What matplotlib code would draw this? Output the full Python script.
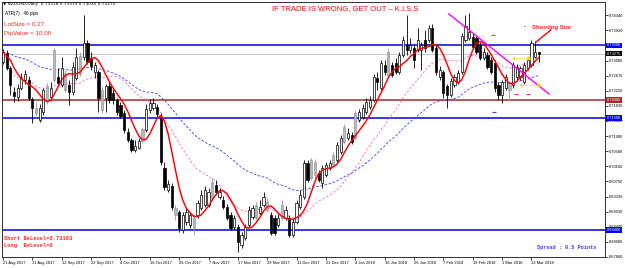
import numpy as np
import pandas as pd
import matplotlib
matplotlib.use("Agg")
import matplotlib.pyplot as plt

# ---------------- data ----------------
opens = [0.7304, 0.7329, 0.7288, 0.7222, 0.7208, 0.7233, 0.7255, 0.7255, 0.7202, 0.7177,
         0.7144, 0.7166, 0.7199, 0.7208, 0.7255, 0.7263, 0.7241, 0.7227, 0.7241, 0.7222,
         0.7260, 0.7271, 0.7318, 0.7357, 0.7315, 0.7277, 0.7277, 0.7172, 0.7205, 0.7238,
         0.7219, 0.7199, 0.7186, 0.7164, 0.7111, 0.7089, 0.7061, 0.7067, 0.7086, 0.7117,
         0.7172, 0.7177, 0.7180, 0.7150, 0.7012, 0.6951, 0.6962, 0.6882, 0.6890, 0.6841,
         0.6863, 0.6854, 0.6874, 0.6882, 0.6901, 0.6910, 0.6910, 0.6929, 0.6965, 0.6932,
         0.6923, 0.6904, 0.6882, 0.6849, 0.6849, 0.6799, 0.6819, 0.6854, 0.6877, 0.6874,
         0.6888, 0.6910, 0.6896, 0.6882, 0.6874, 0.6854, 0.6874, 0.6874, 0.6874, 0.6827,
         0.6863, 0.6904, 0.6932, 0.7025, 0.6984, 0.6992, 0.6998, 0.6970, 0.6992, 0.7012,
         0.7020, 0.7034, 0.7056, 0.7083, 0.7094, 0.7103, 0.7094, 0.7144, 0.7152, 0.7166,
         0.7180, 0.7199, 0.7260, 0.7233, 0.7296, 0.7268, 0.7296, 0.7302, 0.7277, 0.7324,
         0.7351, 0.7337, 0.7343, 0.7337, 0.7337, 0.7365, 0.7365, 0.7398, 0.7343, 0.7263,
         0.7277, 0.7238, 0.7213, 0.7241, 0.7249, 0.7277, 0.7365, 0.7371, 0.7373, 0.7371,
         0.7351, 0.7315, 0.7324, 0.7310, 0.7302, 0.7241, 0.7213, 0.7233, 0.7246, 0.7241,
         0.7263, 0.7263, 0.7249, 0.7288, 0.7296, 0.7318, 0.73318]
highs = [0.7340, 0.7337, 0.7293, 0.7235, 0.7244, 0.7274, 0.7282, 0.7266, 0.7208, 0.7194,
         0.7188, 0.7233, 0.7246, 0.7249, 0.7343, 0.7288, 0.7318, 0.7282, 0.7255, 0.7304,
         0.7343, 0.7332, 0.7434, 0.7365, 0.7332, 0.7304, 0.7282, 0.7238, 0.7244, 0.7249,
         0.7233, 0.7205, 0.7194, 0.7172, 0.7122, 0.7094, 0.7089, 0.7094, 0.7125, 0.7188,
         0.7202, 0.7205, 0.7188, 0.7164, 0.7028, 0.6979, 0.6970, 0.6910, 0.6896, 0.6890,
         0.6901, 0.6890, 0.6885, 0.6923, 0.6951, 0.6962, 0.6957, 0.6984, 0.6979, 0.6957,
         0.6934, 0.6912, 0.6890, 0.6882, 0.6857, 0.6835, 0.6857, 0.6907, 0.6910, 0.6918,
         0.6923, 0.6946, 0.6929, 0.6890, 0.6882, 0.6885, 0.6923, 0.6907, 0.6882, 0.6874,
         0.6923, 0.6951, 0.7034, 0.7034, 0.7039, 0.7037, 0.7006, 0.7020, 0.7028, 0.7034,
         0.7056, 0.7083, 0.7103, 0.7133, 0.7122, 0.7111, 0.7172, 0.7175, 0.7188, 0.7205,
         0.7210, 0.7271, 0.7277, 0.7310, 0.7310, 0.7343, 0.7304, 0.7315, 0.7332, 0.7376,
         0.7434, 0.7371, 0.7351, 0.7398, 0.7359, 0.7393, 0.7406, 0.7409, 0.7351, 0.7293,
         0.7282, 0.7244, 0.7260, 0.7271, 0.7282, 0.7384, 0.7434, 0.7440, 0.7384, 0.7379,
         0.7359, 0.7343, 0.7332, 0.7318, 0.7310, 0.7249, 0.7255, 0.7271, 0.7249, 0.7304,
         0.7299, 0.7293, 0.7304, 0.7318, 0.7365, 0.7362, 0.73319]
lows = [0.7299, 0.7282, 0.7213, 0.7194, 0.7197, 0.7227, 0.7244, 0.7199, 0.7136, 0.7150,
        0.7139, 0.7158, 0.7188, 0.7202, 0.7249, 0.7241, 0.7235, 0.7222, 0.7186, 0.7213,
        0.7255, 0.7266, 0.7310, 0.7299, 0.7282, 0.7260, 0.7166, 0.7164, 0.7166, 0.7191,
        0.7188, 0.7158, 0.7150, 0.7108, 0.7083, 0.7056, 0.7056, 0.7064, 0.7081, 0.7111,
        0.7164, 0.7172, 0.7153, 0.7020, 0.6951, 0.6946, 0.6896, 0.6868, 0.6835, 0.6832,
        0.6854, 0.6846, 0.6827, 0.6874, 0.6896, 0.6904, 0.6904, 0.6923, 0.6937, 0.6926,
        0.6899, 0.6868, 0.6841, 0.6843, 0.6780, 0.6791, 0.6813, 0.6849, 0.6871, 0.6868,
        0.6882, 0.6904, 0.6890, 0.6827, 0.6827, 0.6849, 0.6868, 0.6868, 0.6821, 0.6821,
        0.6857, 0.6899, 0.6926, 0.6973, 0.6979, 0.6984, 0.6973, 0.6957, 0.6987, 0.7006,
        0.7014, 0.7028, 0.7050, 0.7078, 0.7089, 0.7078, 0.7089, 0.7139, 0.7147, 0.7161,
        0.7175, 0.7194, 0.7227, 0.7227, 0.7268, 0.7263, 0.7263, 0.7271, 0.7271, 0.7318,
        0.7324, 0.7329, 0.7288, 0.7332, 0.7282, 0.7332, 0.7359, 0.7332, 0.7268, 0.7255,
        0.7205, 0.7177, 0.7208, 0.7235, 0.7244, 0.7271, 0.7359, 0.7365, 0.7340, 0.7326,
        0.7310, 0.7310, 0.7285, 0.7271, 0.7222, 0.7199, 0.7191, 0.7227, 0.7199, 0.7233,
        0.7255, 0.7255, 0.7244, 0.7282, 0.7291, 0.7315, 0.73035]
closes = [0.7332, 0.7288, 0.7241, 0.7210, 0.7233, 0.7260, 0.7271, 0.7205, 0.7177, 0.7164,
          0.7177, 0.7227, 0.7238, 0.7233, 0.7337, 0.7246, 0.7288, 0.7274, 0.7222, 0.7291,
          0.7318, 0.7321, 0.7357, 0.7304, 0.7293, 0.7296, 0.7205, 0.7227, 0.7238, 0.7199,
          0.7199, 0.7166, 0.7155, 0.7117, 0.7089, 0.7061, 0.7072, 0.7086, 0.7119, 0.7175,
          0.7191, 0.7191, 0.7161, 0.7028, 0.6959, 0.6968, 0.6904, 0.6901, 0.6846, 0.6882,
          0.6890, 0.6882, 0.6846, 0.6915, 0.6937, 0.6951, 0.6946, 0.6973, 0.6946, 0.6946,
          0.6904, 0.6874, 0.6846, 0.6874, 0.6808, 0.6827, 0.6849, 0.6896, 0.6901, 0.6910,
          0.6904, 0.6932, 0.6918, 0.6832, 0.6832, 0.6874, 0.6910, 0.6896, 0.6827, 0.6863,
          0.6915, 0.6937, 0.7025, 0.6979, 0.7034, 0.7028, 0.6979, 0.7012, 0.7020, 0.7025,
          0.7048, 0.7075, 0.7094, 0.7125, 0.7108, 0.7083, 0.7164, 0.7166, 0.7177, 0.7194,
          0.7199, 0.7263, 0.7249, 0.7302, 0.7277, 0.7332, 0.7268, 0.7277, 0.7324, 0.7365,
          0.7337, 0.7351, 0.7310, 0.7365, 0.7351, 0.7343, 0.7398, 0.7337, 0.7277, 0.7282,
          0.7219, 0.7213, 0.7252, 0.7263, 0.7274, 0.7376, 0.7404, 0.7387, 0.7346, 0.7332,
          0.7315, 0.7332, 0.7291, 0.7277, 0.7233, 0.7213, 0.7249, 0.7263, 0.7227, 0.7296,
          0.7291, 0.7288, 0.7296, 0.7310, 0.7357, 0.7332, 0.73275]
gray_bars = [9, 12, 14, 17, 21, 27, 38, 47, 52, 57, 69, 72, 76, 84, 85, 90, 93, 96, 105, 138]

date_labels = ["21 Aug 2017", "31 Aug 2017", "12 Sep 2017", "22 Sep 2017", "4 Oct 2017",
               "16 Oct 2017", "26 Oct 2017", "7 Nov 2017", "17 Nov 2017", "29 Nov 2017",
               "11 Dec 2017", "21 Dec 2017", "4 Jan 2018", "16 Jan 2018", "26 Jan 2018",
               "7 Feb 2018", "19 Feb 2018", "1 Mar 2018", "13 Mar 2018"]
price_ticks = [0.67660, 0.68080, 0.68490, 0.68910, 0.69330, 0.69750, 0.70160, 0.70580,
               0.71000, 0.71420, 0.71830, 0.72250, 0.72670, 0.73080, 0.73500, 0.73920, 0.74340]

blue_levels = [0.73500, 0.71500, 0.68400]
red_levels = [0.72000]
bid_price = 0.73275

trend_bars = [121.5, 148.8]
trend_prices = [0.7437, 0.7216]
star_arrow_bars = [149.3, 145.2]
star_arrow_prices = [0.7393, 0.7359]
yellow_from_bars = [139.3, 141.2]
yellow_to_bars = [143.4, 146.0]
yellow_prices = [0.7315, 0.7241]
red_mark_bars = [133.5, 139.8, 143.0]
red_mark_prices = [0.7380, 0.7216, 0.7216]
blue_mark_bars = [133.8]
blue_mark_prices = [0.7166]

header = "\u25BC NZDUSD,Daily  0.73318 0.73319 0.73035 0.73275"

# ---------------- figure ----------------
W, H = 625, 268
fig = plt.figure(figsize=(W / 100, H / 100), dpi=100)
fig.patch.set_facecolor("white")
L, R, T, B = 2, 605, 2, 257
ax = fig.add_axes([L / W, 1 - B / H, (R - L) / W, (B - T) / H])
ax.set_facecolor("white")

n = len(closes)
x = np.arange(n)
o = np.array(opens); h = np.array(highs); l = np.array(lows); c = np.array(closes)

# moving averages computed from closes
s = pd.Series(c)
red_ma = s.rolling(5, min_periods=1).mean().rolling(3, min_periods=1).mean()
pink_ma = s.rolling(20, min_periods=1).mean()
blue_ma = s.ewm(span=45, adjust=False).mean()

# horizontal levels
for lv in blue_levels:
    ax.axhline(lv, color="#0000E0", lw=1.1, zorder=1)
for lv in red_levels:
    ax.axhline(lv, color="#A52A2A", lw=1.1, zorder=1)
ax.axhline(bid_price, color="#C8C8C8", lw=0.7, zorder=1)

ax.plot(x, blue_ma, color="#3B3BFF", lw=0.6, dashes=(3, 2), zorder=2)
ax.plot(x, pink_ma, color="#FF66CC", lw=0.6, dashes=(3, 2), zorder=2)

# candles
gset = set(gray_bars)
for i in range(n):
    if i in gset:
        ec, fc, wc = "#9A9A9A", "#B8B8B8", "#9A9A9A"
    elif c[i] >= o[i]:
        ec, fc, wc = "black", "white", "black"
    else:
        ec, fc, wc = "black", "black", "black"
    ax.vlines(x[i], l[i], h[i], color=wc, lw=0.6, zorder=3)
    lo, hi = min(o[i], c[i]), max(o[i], c[i])
    ax.bar(x[i], max(hi - lo, 0.00006), bottom=lo, width=0.6, color=fc,
           edgecolor=ec, linewidth=0.5, zorder=4)

ax.plot(x, red_ma, color="#FF0000", lw=1.05, zorder=5)

# trend line and annotations
ax.plot(trend_bars, trend_prices, color="#FF00FF", lw=1.0, zorder=6)
ax.plot(star_arrow_bars, star_arrow_prices, color="#FF0000", lw=1.0, zorder=6)
for xa, xb, yp in zip(yellow_from_bars, yellow_to_bars, yellow_prices):
    ax.plot([xa, xb], [yp, yp], color="#FFC800", lw=0.7, ls=(0, (1, 1)), zorder=6)
    ax.plot([xb], [yp], marker=">", color="#FFC800", ms=2, zorder=6)
    ax.plot([xa], [yp], marker="+", color="#FFC800", ms=2.5, mew=0.6, zorder=6)
ax.plot(red_mark_bars, red_mark_prices, ls="none", marker="_", color="#FF3030",
        ms=3, mew=0.8, zorder=6)
ax.plot(blue_mark_bars, blue_mark_prices, ls="none", marker="_", color="#4040FF",
        ms=3, mew=0.8, zorder=6)

# axes limits & scales
px_per_bar = 3.67
xmin = -0.27
xmax = xmin + (R - L) / px_per_bar
ax.set_xlim(xmin, xmax)
ymin, ymax = 0.67661, 0.74699
ax.set_ylim(ymin, ymax)

for sp in ax.spines.values():
    sp.set_color("#303030")
    sp.set_linewidth(0.7)

ax.set_xticks(np.arange(0, n, 8))
ax.set_xticklabels(date_labels, ha="left", fontsize=2.9, family="Liberation Sans")
ax.tick_params(axis="x", length=2, width=0.5, pad=1.2, colors="black")

# right price scale; a tick hidden under a level box shows no label
level_vals = blue_levels + red_levels + [bid_price]
tick_texts = []
for v in price_ticks:
    hidden = any(abs(v - lv) < 0.0002 for lv in level_vals)
    tick_texts.append("" if hidden else f"{v:.5f}")
ax.yaxis.tick_right()
ax.set_yticks(price_ticks)
ax.set_yticklabels(tick_texts, fontsize=2.9, family="Liberation Sans")
ax.tick_params(axis="y", length=2, width=0.5, pad=0.8, colors="black")

# right-axis level labels
def level_label(val, bg):
    ax.annotate(f"{val:.5f}", xy=(1, val), xycoords=("axes fraction", "data"),
                xytext=(1.2, 0), textcoords="offset points", va="center", ha="left",
                fontsize=2.9, family="Liberation Sans", color="white", zorder=10,
                bbox=dict(boxstyle="square,pad=0.2", fc=bg, ec="none"),
                annotation_clip=False)

for lv in blue_levels:
    level_label(lv, "#0000FF")
for lv in red_levels:
    level_label(lv, "#A52A2A")
level_label(bid_price, "#000000")

# texts (pixel positions)
def ftext(px, py, s, **kw):
    fig.text(px / W, 1 - py / H, s, **kw)

ftext(3, 4.5, header, fontsize=3.1, va="center", ha="left", color="black",
      family=["DejaVu Sans"])
ftext(5, 13, "ATR(7)   46 pips", fontsize=3.3, va="center", ha="left", color="black",
      family="Liberation Sans")
ftext(4, 24, "LotSize = 0.27", fontsize=4.5, va="center", ha="left", color="#FF2020",
      family="Liberation Sans")
ftext(4, 33.5, "PipValue = 10.00", fontsize=4.5, va="center", ha="left", color="#FF2020",
      family="Liberation Sans")
ftext(345, 9, "IF TRADE IS WRONG, GET OUT \u2013 K.I.S.S", fontsize=5.5, va="center",
      ha="center", color="#FF0000", family="Liberation Sans")
ftext(4, 239, "Short BeLevel=0.73103", fontsize=3.9, va="center", ha="left",
      color="#FF2020", family="Liberation Mono", weight="bold")
ftext(4, 245.5, "Long  BeLevel=0", fontsize=3.9, va="center", ha="left",
      color="#FF2020", family="Liberation Mono", weight="bold")
ftext(537, 247, "Spread : 0.5 Points", fontsize=3.7, va="center", ha="left",
      color="#3A3AFF", family="Liberation Mono", weight="bold")
ftext(524, 27, "-", fontsize=4.3, va="center", ha="left", color="#2020FF",
      family="Liberation Sans", weight="bold")
ftext(532, 27, "Shooting Star", fontsize=4.3, va="center", ha="left", color="#FF2020",
      family="Liberation Sans", weight="bold")

fig.savefig("out.png", dpi=100)
